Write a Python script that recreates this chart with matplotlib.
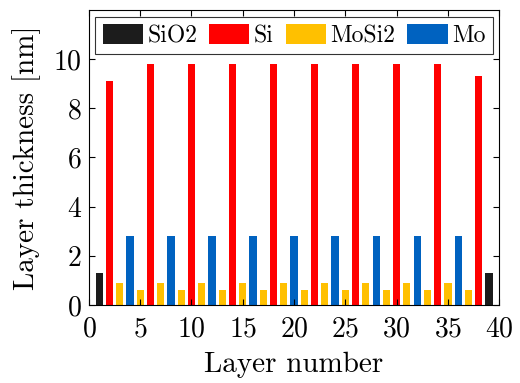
import matplotlib
matplotlib.use("Agg")
import matplotlib.pyplot as plt
from matplotlib.patches import Patch

plt.rcParams["font.family"] = "cmr10"
plt.rcParams["mathtext.fontset"] = "cm"
plt.rcParams["axes.formatter.use_mathtext"] = True

# Layer stack: material and thickness [nm] for each layer
layer_number = list(range(1, 40))
materials = (["SiO2"]
             + ["Si", "MoSi2", "Mo", "MoSi2"] * 9
             + ["Si", "SiO2"])
thickness = [1.3,
             9.1, 0.9, 2.8, 0.6,
             9.8, 0.9, 2.8, 0.6,
             9.8, 0.9, 2.8, 0.6,
             9.8, 0.9, 2.8, 0.6,
             9.8, 0.9, 2.8, 0.6,
             9.8, 0.9, 2.8, 0.6,
             9.8, 0.9, 2.8, 0.6,
             9.8, 0.9, 2.8, 0.6,
             9.8, 0.9, 2.8, 0.6,
             9.3, 1.3]

legend_order = ["SiO2", "Si", "MoSi2", "Mo"]
colors = {"SiO2": "#1c1c1c", "Si": "#ff0000", "MoSi2": "#ffc000", "Mo": "#0062c0"}

fig = plt.figure(figsize=(5.2, 3.83), dpi=100)
ax = fig.add_axes([0.171, 0.204, 0.789, 0.77])

ax.bar(layer_number, thickness, width=0.7,
       color=[colors[m] for m in materials], edgecolor="none")

ax.set_xlim(0, 40)
ax.set_ylim(0, 12)
ax.set_xticks(range(0, 41, 5))
ax.set_yticks(range(0, 11, 2))
ax.tick_params(direction="in", top=True, right=True, labelsize=20, length=4)
ax.tick_params(axis="x", pad=8)
ax.tick_params(axis="y", pad=5)
for s in ax.spines.values():
    s.set_linewidth(0.8)

ax.set_xlabel("Layer number", fontsize=21, labelpad=7)
ax.set_ylabel("Layer thickness [nm]", fontsize=21, labelpad=9)

handles = [Patch(facecolor=colors[m], edgecolor="none", label=m) for m in legend_order]
leg = ax.legend(handles=handles, loc="upper center", ncol=4, fontsize=17,
                frameon=True, fancybox=False, edgecolor="black",
                handlelength=1.7, handleheight=0.9, handletextpad=0.2,
                columnspacing=0.5, borderpad=0.3, borderaxespad=0.3)
leg.get_frame().set_linewidth(0.8)

fig.savefig("out.png", dpi=100)
